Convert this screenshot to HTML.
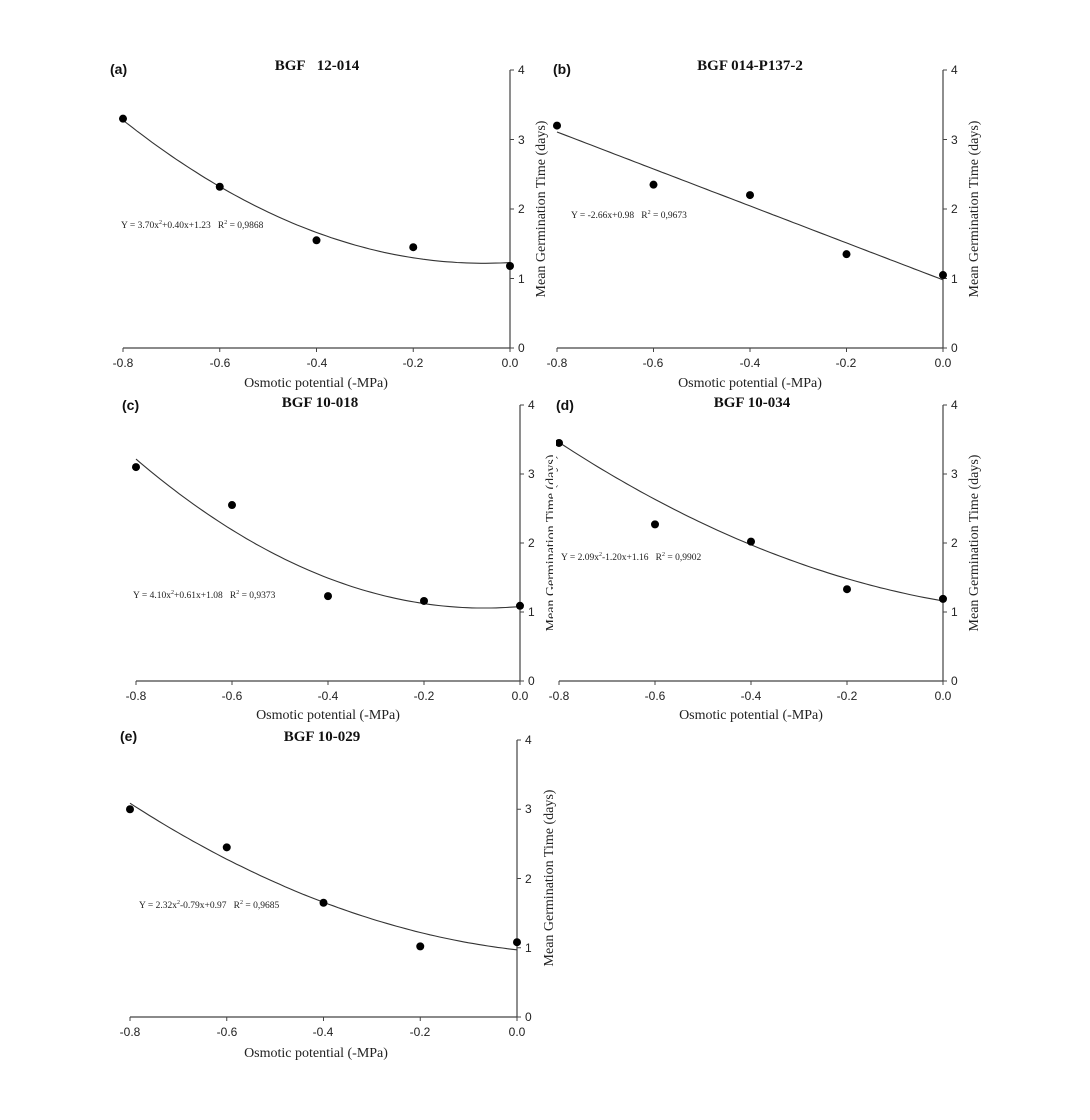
<!DOCTYPE html>
<html><head><meta charset="utf-8"><style>
html,body{margin:0;padding:0;background:#fff;}
svg{display:block;}
.tk{font-family:"Liberation Sans",sans-serif;font-size:12px;fill:#222;}
.lab{font-family:"Liberation Serif",serif;font-size:14px;fill:#222;}
.ttl{font-family:"Liberation Serif",serif;font-size:15px;font-weight:bold;fill:#111;}
.pl{font-family:"Liberation Sans",sans-serif;font-size:14px;font-weight:bold;fill:#111;}
.eq{font-family:"Liberation Serif",serif;font-size:9.5px;fill:#222;}
</style></head><body>
<svg id="s" width="1090" height="1120" xmlns="http://www.w3.org/2000/svg">
<rect width="1090" height="1120" fill="#fff"/>
<g id="g"></g>
<!-- panel a -->
<text class="pl" x="110" y="74">(a)</text>
<text class="ttl" x="317" y="70" text-anchor="middle">BGF&#160;&#160;&#160;12-014</text>
<text class="eq" x="121" y="228">Y = 3.70x<tspan dy="-4" font-size="6">2</tspan><tspan dy="4">+0.40x+1.23&#160;&#160;&#160;R</tspan><tspan dy="-4" font-size="6">2</tspan><tspan dy="4"> = 0,9868</tspan></text>
<text class="lab" x="316" y="387" text-anchor="middle">Osmotic potential (-MPa)</text>
<text class="lab" transform="translate(545,209) rotate(-90)" text-anchor="middle">Mean Germination Time (days)</text>
<!-- panel c -->
<text class="pl" x="122" y="410">(c)</text>
<text class="ttl" x="320" y="407" text-anchor="middle">BGF 10-018</text>
<text class="eq" x="133" y="598">Y = 4.10x<tspan dy="-4" font-size="6">2</tspan><tspan dy="4">+0.61x+1.08&#160;&#160;&#160;R</tspan><tspan dy="-4" font-size="6">2</tspan><tspan dy="4"> = 0,9373</tspan></text>
<text class="lab" x="328" y="719" text-anchor="middle">Osmotic potential (-MPa)</text>
<text class="lab" transform="translate(555,543) rotate(-90)" text-anchor="middle">Mean Germination Time (days)</text>
<rect x="553" y="405" width="3" height="300" fill="#fff"/>
<!-- panel b -->
<text class="pl" x="553" y="74">(b)</text>
<text class="ttl" x="750" y="70" text-anchor="middle">BGF 014-P137-2</text>
<text class="eq" x="571" y="218">Y = -2.66x+0.98&#160;&#160;&#160;R<tspan dy="-4" font-size="6">2</tspan><tspan dy="4"> = 0,9673</tspan></text>
<text class="lab" x="750" y="387" text-anchor="middle">Osmotic potential (-MPa)</text>
<text class="lab" transform="translate(978,209) rotate(-90)" text-anchor="middle">Mean Germination Time (days)</text>
<!-- panel d -->
<text class="pl" x="556" y="410">(d)</text>
<text class="ttl" x="752" y="407" text-anchor="middle">BGF 10-034</text>
<text class="eq" x="561" y="560">Y = 2.09x<tspan dy="-4" font-size="6">2</tspan><tspan dy="4">-1.20x+1.16&#160;&#160;&#160;R</tspan><tspan dy="-4" font-size="6">2</tspan><tspan dy="4"> = 0,9902</tspan></text>
<text class="lab" x="751" y="719" text-anchor="middle">Osmotic potential (-MPa)</text>
<text class="lab" transform="translate(978,543) rotate(-90)" text-anchor="middle">Mean Germination Time (days)</text>
<!-- panel e -->
<text class="pl" x="120" y="741">(e)</text>
<text class="ttl" x="322" y="741" text-anchor="middle">BGF 10-029</text>
<text class="eq" x="139" y="908">Y = 2.32x<tspan dy="-4" font-size="6">2</tspan><tspan dy="4">-0.79x+0.97&#160;&#160;&#160;R</tspan><tspan dy="-4" font-size="6">2</tspan><tspan dy="4"> = 0,9685</tspan></text>
<text class="lab" x="316" y="1057" text-anchor="middle">Osmotic potential (-MPa)</text>
<text class="lab" transform="translate(553,878) rotate(-90)" text-anchor="middle">Mean Germination Time (days)</text>
<!-- tick labels -->
<g class="tk">
<g text-anchor="middle">
<text x="123" y="367">-0.8</text><text x="220" y="367">-0.6</text><text x="317" y="367">-0.4</text><text x="413" y="367">-0.2</text><text x="510" y="367">0.0</text>
<text x="557" y="367">-0.8</text><text x="653" y="367">-0.6</text><text x="750" y="367">-0.4</text><text x="846" y="367">-0.2</text><text x="943" y="367">0.0</text>
<text x="136" y="700">-0.8</text><text x="232" y="700">-0.6</text><text x="328" y="700">-0.4</text><text x="424" y="700">-0.2</text><text x="520" y="700">0.0</text>
<text x="559" y="700">-0.8</text><text x="655" y="700">-0.6</text><text x="751" y="700">-0.4</text><text x="847" y="700">-0.2</text><text x="943" y="700">0.0</text>
<text x="130" y="1036">-0.8</text><text x="227" y="1036">-0.6</text><text x="323" y="1036">-0.4</text><text x="420" y="1036">-0.2</text><text x="517" y="1036">0.0</text>
</g>
<text x="518" y="352">0</text><text x="518" y="283">1</text><text x="518" y="213">2</text><text x="518" y="144">3</text><text x="518" y="74">4</text>
<text x="951" y="352">0</text><text x="951" y="283">1</text><text x="951" y="213">2</text><text x="951" y="144">3</text><text x="951" y="74">4</text>
<text x="528" y="685">0</text><text x="528" y="616">1</text><text x="528" y="547">2</text><text x="528" y="478">3</text><text x="528" y="409">4</text>
<text x="951" y="685">0</text><text x="951" y="616">1</text><text x="951" y="547">2</text><text x="951" y="478">3</text><text x="951" y="409">4</text>
<text x="525" y="1021">0</text><text x="525" y="952">1</text><text x="525" y="883">2</text><text x="525" y="813">3</text><text x="525" y="744">4</text>
</g>
</svg>
<script>
var P=[
 {x0:123,x1:510,y0:348,y4:70,f:function(x){return 3.70*x*x+0.40*x+1.23},pts:[3.3,2.32,1.55,1.45,1.18]},
 {x0:557,x1:943,y0:348,y4:70,f:function(x){return -2.66*x+0.98},pts:[3.2,2.35,2.2,1.35,1.05]},
 {x0:136,x1:520,y0:681,y4:405,f:function(x){return 4.10*x*x+0.61*x+1.08},pts:[3.1,2.55,1.23,1.16,1.09]},
 {x0:559,x1:943,y0:681,y4:405,f:function(x){return 2.09*x*x-1.20*x+1.16},pts:[3.45,2.27,2.02,1.33,1.19]},
 {x0:130,x1:517,y0:1017,y4:740,f:function(x){return 2.32*x*x-0.79*x+0.97},pts:[3.0,2.45,1.65,1.02,1.08]}
];
var h='';
P.forEach(function(p){
 var X=function(v){return p.x1+(v/0.8)*(p.x1-p.x0)};
 var Y=function(v){return p.y0-v*(p.y0-p.y4)/4};
 h+='<line x1="'+p.x0+'" y1="'+p.y0+'" x2="'+p.x1+'" y2="'+p.y0+'" stroke="#444" stroke-width="1.2"/>';
 h+='<line x1="'+p.x1+'" y1="'+p.y0+'" x2="'+p.x1+'" y2="'+p.y4+'" stroke="#444" stroke-width="1.2"/>';
 for(var i=0;i<5;i++){var xx=X(-0.8+0.2*i);h+='<line x1="'+xx+'" y1="'+p.y0+'" x2="'+xx+'" y2="'+(p.y0+4)+'" stroke="#444"/>';
  var yy=Y(i);h+='<line x1="'+p.x1+'" y1="'+yy+'" x2="'+(p.x1+4)+'" y2="'+yy+'" stroke="#444"/>';}
 var d='';for(var k=0;k<=80;k++){var v=-0.8+k*0.01;d+=(k?'L':'M')+X(v).toFixed(1)+','+Y(p.f(v)).toFixed(1);}
 h+='<path d="'+d+'" fill="none" stroke="#333" stroke-width="1.1"/>';
 p.pts.forEach(function(v,i){h+='<circle cx="'+X(-0.8+0.2*i)+'" cy="'+Y(v)+'" r="4" fill="#000"/>';});
});
document.getElementById('g').innerHTML=h;
</script>
</body></html>
